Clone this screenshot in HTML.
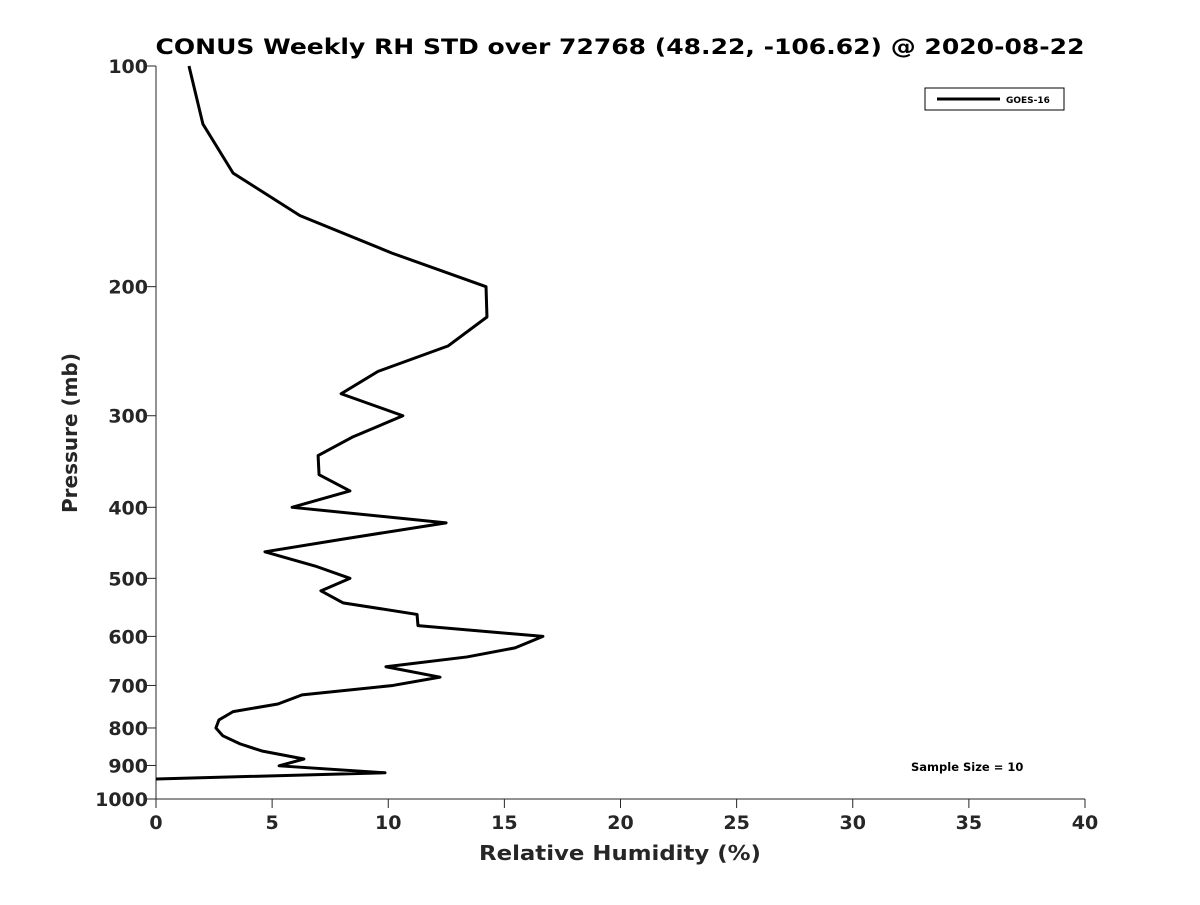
<!DOCTYPE html>
<html><head><meta charset="utf-8"><style>
body{margin:0;background:#fff;}
svg text{font-family:"DejaVu Sans","Liberation Sans",sans-serif;font-weight:bold;fill:#262626;}
</style></head><body>
<svg width="1200" height="900" xmlns="http://www.w3.org/2000/svg">
<rect width="1200" height="900" fill="#fff"/>
<text x="620" y="54" text-anchor="middle" font-size="21" textLength="929" lengthAdjust="spacingAndGlyphs" style="fill:#000">CONUS Weekly RH STD over 72768 (48.22, -106.62) @ 2020-08-22</text>
<g id="axes"></g>
<polyline id="series" fill="none" stroke="#000" stroke-width="3" stroke-linejoin="round"/>
<text x="620" y="860" text-anchor="middle" font-size="20" textLength="282" lengthAdjust="spacingAndGlyphs">Relative Humidity (%)</text>
<text transform="translate(77,433) rotate(-90)" text-anchor="middle" font-size="20">Pressure (mb)</text>
<g>
<rect x="925" y="88" width="139" height="22" fill="#fff" stroke="#000" stroke-width="1"/>
<line x1="937" y1="99" x2="1000" y2="99" stroke="#000" stroke-width="3"/>
<text x="1006" y="103" font-size="9" style="fill:#000">GOES-16</text>
</g>
<text x="911" y="771" font-size="11.5" style="fill:#000">Sample Size = 10</text>
</svg>
<script>
const rhValues=[1.42,2.02,3.32,6.2,10.16,14.21,14.25,12.57,9.56,7.97,10.63,8.44,6.98,7.02,8.35,5.86,12.49,8.05,4.69,6.85,8.35,7.1,8.05,11.24,11.28,16.66,15.46,13.39,9.9,12.23,10.2,6.29,5.25,3.32,2.71,2.58,2.88,3.62,4.56,6.37,5.3,9.86,0];
const pressures=[100,120,140,160,180,200,220,241,261,280,300,321,340,361,380,400,420,442,460,481,500,520,540,560,580,600,622,640,660,682,700,721,742,760,780,800,820,841,860,882,901,921,939];
const xTicks=[0,5,10,15,20,25,30,35,40];
const yTicks=[100,200,300,400,500,600,700,800,900,1000];
const X0=156,X1=1085,Y0=66,Y1=799;
function xs(v){return X0+(v-0)/(40-0)*(X1-X0);}
function ys(p){return Y0+Math.log10(p/100)/Math.log10(10)*(Y1-Y0);}
const NS="http://www.w3.org/2000/svg";
const ax=document.getElementById('axes');
function mk(t,a){const e=document.createElementNS(NS,t);for(const k in a)e.setAttribute(k,a[k]);return e;}
let l=mk('line',{x1:X0,y1:Y0,x2:X0,y2:Y1,stroke:'#262626','stroke-width':1});


ax.appendChild(l);
l=mk('line',{x1:X0,y1:Y1,x2:X1,y2:Y1,stroke:'#262626','stroke-width':1});


ax.appendChild(l);
xTicks.forEach(v=>{
 const x=xs(v);
 const t=mk('line',{x1:x,y1:Y1,x2:x,y2:Y1+9,stroke:'#262626','stroke-width':1});
 
 
 ax.appendChild(t);
 const s=mk('text',{x:x,y:Y1+30,'text-anchor':'middle','font-size':19});
 
 
 s.textContent=v;ax.appendChild(s);
});
yTicks.forEach(v=>{
 const y=ys(v);
 const t=mk('line',{x1:X0-9,y1:y,x2:X0,y2:y,stroke:'#262626','stroke-width':1});
 
 
 ax.appendChild(t);
 const s=mk('text',{x:X0-8,y:y+7,'text-anchor':'end','font-size':19});
 
 
 s.textContent=v;ax.appendChild(s);
});
document.getElementById('series').setAttribute('points',rhValues.map((v,i)=>xs(v)+','+ys(pressures[i])).join(' '));
</script>
</body></html>
